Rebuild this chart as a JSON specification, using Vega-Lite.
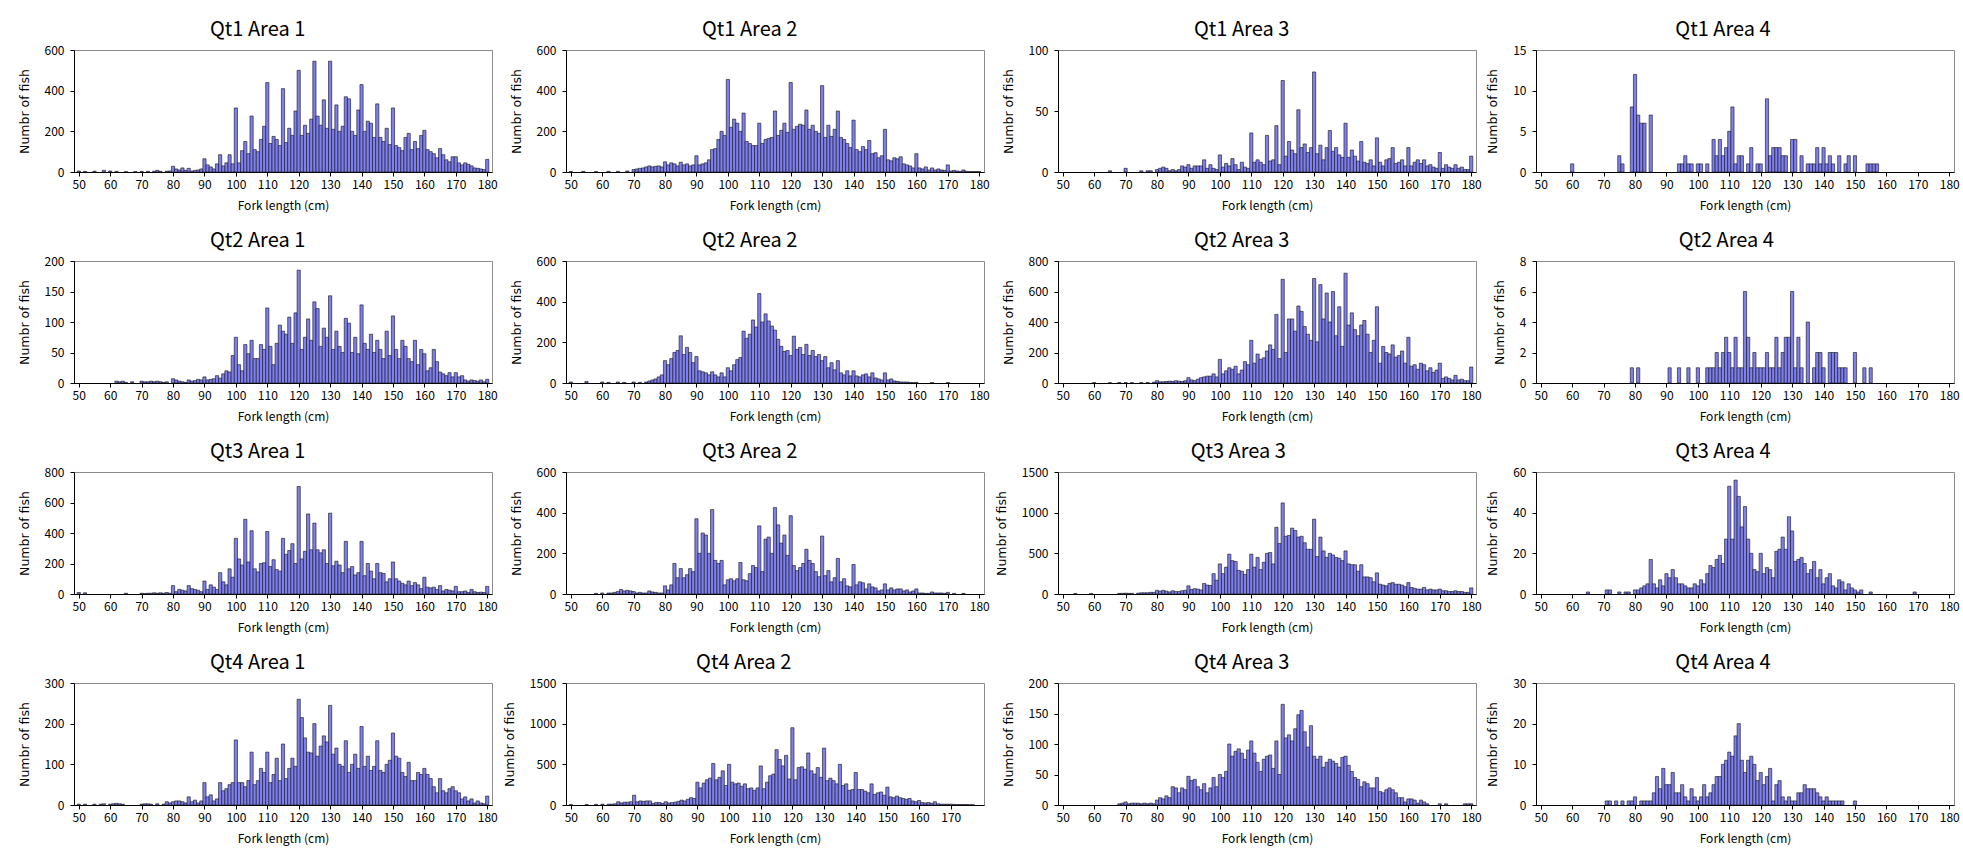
{
"$schema":"https://vega.github.io/schema/vega-lite/v6.json",
"background":"white",
"padding":{"left":17,"top":19,"right":4,"bottom":2},
"columns":4,
"spacing":{"row":18,"column":4},
"datasets":{
"q1a1":[{"x":50,"n":5},{"x":52,"n":3},{"x":55,"n":4},{"x":58,"n":8},{"x":60,"n":5},{"x":62,"n":3},{"x":65,"n":2},{"x":68,"n":2},{"x":70,"n":3},{"x":72,"n":3},{"x":74,"n":4},{"x":75,"n":8},{"x":76,"n":3},{"x":78,"n":4},{"x":79,"n":5},{"x":80,"n":28},{"x":81,"n":15},{"x":82,"n":10},{"x":83,"n":20},{"x":84,"n":8},{"x":85,"n":18},{"x":86,"n":5},{"x":87,"n":8},{"x":88,"n":10},{"x":89,"n":15},{"x":90,"n":65},{"x":91,"n":35},{"x":92,"n":25},{"x":93,"n":15},{"x":94,"n":40},{"x":95,"n":85},{"x":96,"n":30},{"x":97,"n":45},{"x":98,"n":85},{"x":99,"n":40},{"x":100,"n":315},{"x":101,"n":45},{"x":102,"n":105},{"x":103,"n":150},{"x":104,"n":90},{"x":105,"n":275},{"x":106,"n":110},{"x":107,"n":100},{"x":108,"n":160},{"x":109,"n":225},{"x":110,"n":440},{"x":111,"n":140},{"x":112,"n":175},{"x":113,"n":160},{"x":114,"n":130},{"x":115,"n":410},{"x":116,"n":145},{"x":117,"n":215},{"x":118,"n":180},{"x":119,"n":300},{"x":120,"n":500},{"x":121,"n":180},{"x":122,"n":230},{"x":123,"n":190},{"x":124,"n":260},{"x":125,"n":545},{"x":126,"n":275},{"x":127,"n":230},{"x":128,"n":355},{"x":129,"n":215},{"x":130,"n":545},{"x":131,"n":210},{"x":132,"n":330},{"x":133,"n":200},{"x":134,"n":225},{"x":135,"n":370},{"x":136,"n":360},{"x":137,"n":200},{"x":138,"n":180},{"x":139,"n":305},{"x":140,"n":430},{"x":141,"n":200},{"x":142,"n":250},{"x":143,"n":240},{"x":144,"n":170},{"x":145,"n":335},{"x":146,"n":170},{"x":147,"n":150},{"x":148,"n":215},{"x":149,"n":135},{"x":150,"n":315},{"x":151,"n":130},{"x":152,"n":120},{"x":153,"n":105},{"x":154,"n":170},{"x":155,"n":190},{"x":156,"n":110},{"x":157,"n":150},{"x":158,"n":115},{"x":159,"n":180},{"x":160,"n":205},{"x":161,"n":110},{"x":162,"n":100},{"x":163,"n":90},{"x":164,"n":70},{"x":165,"n":115},{"x":166,"n":85},{"x":167,"n":60},{"x":168,"n":50},{"x":169,"n":75},{"x":170,"n":75},{"x":171,"n":45},{"x":172,"n":35},{"x":173,"n":45},{"x":174,"n":38},{"x":175,"n":30},{"x":176,"n":20},{"x":177,"n":18},{"x":178,"n":15},{"x":179,"n":12},{"x":180,"n":62}],
"q1a2":[{"x":50,"n":2},{"x":54,"n":3},{"x":58,"n":2},{"x":62,"n":3},{"x":65,"n":3},{"x":68,"n":5},{"x":70,"n":12},{"x":71,"n":15},{"x":72,"n":18},{"x":73,"n":20},{"x":74,"n":25},{"x":75,"n":30},{"x":76,"n":25},{"x":77,"n":28},{"x":78,"n":30},{"x":79,"n":25},{"x":80,"n":50},{"x":81,"n":35},{"x":82,"n":45},{"x":83,"n":40},{"x":84,"n":30},{"x":85,"n":48},{"x":86,"n":35},{"x":87,"n":40},{"x":88,"n":30},{"x":89,"n":35},{"x":90,"n":80},{"x":91,"n":35},{"x":92,"n":40},{"x":93,"n":45},{"x":94,"n":60},{"x":95,"n":110},{"x":96,"n":115},{"x":97,"n":160},{"x":98,"n":200},{"x":99,"n":180},{"x":100,"n":455},{"x":101,"n":220},{"x":102,"n":260},{"x":103,"n":240},{"x":104,"n":200},{"x":105,"n":290},{"x":106,"n":150},{"x":107,"n":140},{"x":108,"n":130},{"x":109,"n":130},{"x":110,"n":240},{"x":111,"n":140},{"x":112,"n":160},{"x":113,"n":165},{"x":114,"n":170},{"x":115,"n":300},{"x":116,"n":180},{"x":117,"n":205},{"x":118,"n":240},{"x":119,"n":195},{"x":120,"n":440},{"x":121,"n":210},{"x":122,"n":225},{"x":123,"n":235},{"x":124,"n":230},{"x":125,"n":305},{"x":126,"n":210},{"x":127,"n":230},{"x":128,"n":200},{"x":129,"n":190},{"x":130,"n":425},{"x":131,"n":170},{"x":132,"n":230},{"x":133,"n":175},{"x":134,"n":210},{"x":135,"n":300},{"x":136,"n":170},{"x":137,"n":160},{"x":138,"n":140},{"x":139,"n":120},{"x":140,"n":255},{"x":141,"n":110},{"x":142,"n":100},{"x":143,"n":125},{"x":144,"n":110},{"x":145,"n":155},{"x":146,"n":90},{"x":147,"n":95},{"x":148,"n":70},{"x":149,"n":80},{"x":150,"n":210},{"x":151,"n":60},{"x":152,"n":55},{"x":153,"n":70},{"x":154,"n":65},{"x":155,"n":75},{"x":156,"n":40},{"x":157,"n":35},{"x":158,"n":30},{"x":159,"n":20},{"x":160,"n":90},{"x":161,"n":20},{"x":162,"n":15},{"x":163,"n":25},{"x":164,"n":10},{"x":165,"n":20},{"x":166,"n":10},{"x":167,"n":15},{"x":168,"n":10},{"x":169,"n":8},{"x":170,"n":35},{"x":171,"n":5},{"x":172,"n":8},{"x":173,"n":5},{"x":174,"n":3},{"x":175,"n":10},{"x":176,"n":3},{"x":177,"n":2},{"x":178,"n":2},{"x":179,"n":2},{"x":180,"n":2}],
"q1a3":[{"x":65,"n":1},{"x":70,"n":3},{"x":75,"n":1},{"x":77,"n":1},{"x":78,"n":1},{"x":80,"n":2},{"x":81,"n":3},{"x":82,"n":4},{"x":83,"n":3},{"x":84,"n":1},{"x":85,"n":2},{"x":86,"n":1},{"x":87,"n":2},{"x":88,"n":5},{"x":89,"n":4},{"x":90,"n":6},{"x":91,"n":3},{"x":92,"n":5},{"x":93,"n":5},{"x":94,"n":5},{"x":95,"n":10},{"x":96,"n":3},{"x":97,"n":6},{"x":98,"n":3},{"x":99,"n":2},{"x":100,"n":14},{"x":101,"n":4},{"x":102,"n":7},{"x":103,"n":5},{"x":104,"n":11},{"x":105,"n":6},{"x":106,"n":2},{"x":107,"n":8},{"x":108,"n":4},{"x":109,"n":3},{"x":110,"n":32},{"x":111,"n":8},{"x":112,"n":10},{"x":113,"n":8},{"x":114,"n":6},{"x":115,"n":30},{"x":116,"n":9},{"x":117,"n":10},{"x":118,"n":38},{"x":119,"n":6},{"x":120,"n":75},{"x":121,"n":13},{"x":122,"n":25},{"x":123,"n":18},{"x":124,"n":15},{"x":125,"n":51},{"x":126,"n":20},{"x":127,"n":23},{"x":128,"n":16},{"x":129,"n":20},{"x":130,"n":82},{"x":131,"n":15},{"x":132,"n":22},{"x":133,"n":10},{"x":134,"n":20},{"x":135,"n":34},{"x":136,"n":17},{"x":137,"n":20},{"x":138,"n":14},{"x":139,"n":12},{"x":140,"n":40},{"x":141,"n":12},{"x":142,"n":18},{"x":143,"n":13},{"x":144,"n":9},{"x":145,"n":25},{"x":146,"n":8},{"x":147,"n":7},{"x":148,"n":10},{"x":149,"n":5},{"x":150,"n":28},{"x":151,"n":8},{"x":152,"n":5},{"x":153,"n":10},{"x":154,"n":11},{"x":155,"n":20},{"x":156,"n":7},{"x":157,"n":8},{"x":158,"n":10},{"x":159,"n":5},{"x":160,"n":20},{"x":161,"n":5},{"x":162,"n":8},{"x":163,"n":10},{"x":164,"n":7},{"x":165,"n":10},{"x":166,"n":5},{"x":167,"n":6},{"x":168,"n":4},{"x":169,"n":3},{"x":170,"n":16},{"x":171,"n":3},{"x":172,"n":6},{"x":173,"n":4},{"x":174,"n":3},{"x":175,"n":6},{"x":176,"n":3},{"x":177,"n":4},{"x":178,"n":2},{"x":179,"n":2},{"x":180,"n":13}],
"q1a4":[{"x":60,"n":1},{"x":75,"n":2},{"x":76,"n":1},{"x":79,"n":8},{"x":80,"n":12},{"x":81,"n":7},{"x":82,"n":6},{"x":83,"n":6},{"x":85,"n":7},{"x":94,"n":1},{"x":95,"n":1},{"x":96,"n":2},{"x":97,"n":1},{"x":98,"n":1},{"x":100,"n":1},{"x":101,"n":1},{"x":103,"n":1},{"x":105,"n":4},{"x":106,"n":2},{"x":107,"n":4},{"x":108,"n":2},{"x":109,"n":3},{"x":110,"n":5},{"x":111,"n":8},{"x":112,"n":1},{"x":113,"n":2},{"x":114,"n":2},{"x":116,"n":1},{"x":117,"n":3},{"x":119,"n":1},{"x":120,"n":1},{"x":122,"n":9},{"x":123,"n":2},{"x":124,"n":3},{"x":125,"n":3},{"x":126,"n":3},{"x":127,"n":2},{"x":128,"n":2},{"x":130,"n":4},{"x":131,"n":4},{"x":133,"n":2},{"x":135,"n":1},{"x":136,"n":1},{"x":137,"n":1},{"x":138,"n":3},{"x":139,"n":1},{"x":140,"n":3},{"x":141,"n":1},{"x":142,"n":2},{"x":143,"n":1},{"x":145,"n":2},{"x":147,"n":1},{"x":148,"n":2},{"x":150,"n":2},{"x":154,"n":1},{"x":155,"n":1},{"x":156,"n":1},{"x":157,"n":1}],
"q2a1":[{"x":62,"n":3},{"x":63,"n":2},{"x":64,"n":3},{"x":65,"n":1},{"x":67,"n":2},{"x":70,"n":3},{"x":71,"n":2},{"x":72,"n":2},{"x":73,"n":3},{"x":74,"n":2},{"x":75,"n":3},{"x":76,"n":2},{"x":77,"n":1},{"x":78,"n":2},{"x":80,"n":7},{"x":81,"n":5},{"x":82,"n":3},{"x":83,"n":2},{"x":84,"n":1},{"x":85,"n":5},{"x":86,"n":3},{"x":87,"n":4},{"x":88,"n":6},{"x":89,"n":5},{"x":90,"n":10},{"x":91,"n":5},{"x":92,"n":6},{"x":93,"n":7},{"x":94,"n":12},{"x":95,"n":8},{"x":96,"n":15},{"x":97,"n":20},{"x":98,"n":18},{"x":99,"n":45},{"x":100,"n":75},{"x":101,"n":30},{"x":102,"n":20},{"x":103,"n":63},{"x":104,"n":48},{"x":105,"n":70},{"x":106,"n":40},{"x":107,"n":40},{"x":108,"n":63},{"x":109,"n":55},{"x":110,"n":123},{"x":111,"n":60},{"x":112,"n":30},{"x":113,"n":65},{"x":114,"n":95},{"x":115,"n":85},{"x":116,"n":80},{"x":117,"n":108},{"x":118,"n":65},{"x":119,"n":115},{"x":120,"n":185},{"x":121,"n":55},{"x":122,"n":75},{"x":123,"n":105},{"x":124,"n":70},{"x":125,"n":133},{"x":126,"n":122},{"x":127,"n":60},{"x":128,"n":90},{"x":129,"n":75},{"x":130,"n":143},{"x":131,"n":55},{"x":132,"n":85},{"x":133,"n":60},{"x":134,"n":50},{"x":135,"n":106},{"x":136,"n":98},{"x":137,"n":50},{"x":138,"n":75},{"x":139,"n":48},{"x":140,"n":128},{"x":141,"n":65},{"x":142,"n":55},{"x":143,"n":80},{"x":144,"n":50},{"x":145,"n":70},{"x":146,"n":55},{"x":147,"n":40},{"x":148,"n":85},{"x":149,"n":45},{"x":150,"n":110},{"x":151,"n":55},{"x":152,"n":40},{"x":153,"n":70},{"x":154,"n":60},{"x":155,"n":40},{"x":156,"n":35},{"x":157,"n":70},{"x":158,"n":30},{"x":159,"n":55},{"x":160,"n":48},{"x":161,"n":20},{"x":162,"n":25},{"x":163,"n":55},{"x":164,"n":35},{"x":165,"n":18},{"x":166,"n":15},{"x":167,"n":12},{"x":168,"n":17},{"x":169,"n":10},{"x":170,"n":17},{"x":171,"n":10},{"x":172,"n":12},{"x":173,"n":5},{"x":174,"n":3},{"x":175,"n":5},{"x":176,"n":4},{"x":177,"n":3},{"x":178,"n":5},{"x":179,"n":2},{"x":180,"n":6}],
"q2a2":[{"x":50,"n":5},{"x":55,"n":7},{"x":60,"n":5},{"x":62,"n":3},{"x":65,"n":5},{"x":67,"n":3},{"x":70,"n":5},{"x":72,"n":3},{"x":74,"n":5},{"x":75,"n":10},{"x":76,"n":15},{"x":77,"n":20},{"x":78,"n":30},{"x":79,"n":40},{"x":80,"n":110},{"x":81,"n":90},{"x":82,"n":120},{"x":83,"n":150},{"x":84,"n":160},{"x":85,"n":232},{"x":86,"n":140},{"x":87,"n":175},{"x":88,"n":150},{"x":89,"n":100},{"x":90,"n":130},{"x":91,"n":60},{"x":92,"n":55},{"x":93,"n":50},{"x":94,"n":40},{"x":95,"n":55},{"x":96,"n":40},{"x":97,"n":30},{"x":98,"n":50},{"x":99,"n":30},{"x":100,"n":75},{"x":101,"n":60},{"x":102,"n":90},{"x":103,"n":115},{"x":104,"n":125},{"x":105,"n":255},{"x":106,"n":220},{"x":107,"n":240},{"x":108,"n":310},{"x":109,"n":275},{"x":110,"n":440},{"x":111,"n":300},{"x":112,"n":340},{"x":113,"n":305},{"x":114,"n":280},{"x":115,"n":260},{"x":116,"n":215},{"x":117,"n":180},{"x":118,"n":155},{"x":119,"n":160},{"x":120,"n":135},{"x":121,"n":230},{"x":122,"n":165},{"x":123,"n":175},{"x":124,"n":140},{"x":125,"n":190},{"x":126,"n":135},{"x":127,"n":160},{"x":128,"n":130},{"x":129,"n":140},{"x":130,"n":110},{"x":131,"n":130},{"x":132,"n":75},{"x":133,"n":100},{"x":134,"n":65},{"x":135,"n":110},{"x":136,"n":50},{"x":137,"n":40},{"x":138,"n":60},{"x":139,"n":35},{"x":140,"n":60},{"x":141,"n":35},{"x":142,"n":30},{"x":143,"n":40},{"x":144,"n":45},{"x":145,"n":30},{"x":146,"n":50},{"x":147,"n":25},{"x":148,"n":20},{"x":149,"n":15},{"x":150,"n":50},{"x":151,"n":15},{"x":152,"n":20},{"x":153,"n":10},{"x":154,"n":8},{"x":155,"n":5},{"x":156,"n":5},{"x":157,"n":5},{"x":158,"n":3},{"x":159,"n":2},{"x":160,"n":3},{"x":165,"n":2},{"x":170,"n":2}],
"q2a3":[{"x":60,"n":3},{"x":65,"n":2},{"x":68,"n":3},{"x":70,"n":3},{"x":72,"n":2},{"x":75,"n":3},{"x":77,"n":3},{"x":79,"n":5},{"x":80,"n":15},{"x":81,"n":8},{"x":82,"n":8},{"x":83,"n":10},{"x":84,"n":12},{"x":85,"n":10},{"x":86,"n":15},{"x":87,"n":12},{"x":88,"n":10},{"x":89,"n":15},{"x":90,"n":35},{"x":91,"n":20},{"x":92,"n":15},{"x":93,"n":25},{"x":94,"n":35},{"x":95,"n":40},{"x":96,"n":45},{"x":97,"n":45},{"x":98,"n":60},{"x":99,"n":40},{"x":100,"n":155},{"x":101,"n":60},{"x":102,"n":80},{"x":103,"n":100},{"x":104,"n":90},{"x":105,"n":110},{"x":106,"n":60},{"x":107,"n":85},{"x":108,"n":140},{"x":109,"n":120},{"x":110,"n":280},{"x":111,"n":130},{"x":112,"n":190},{"x":113,"n":155},{"x":114,"n":165},{"x":115,"n":210},{"x":116,"n":250},{"x":117,"n":220},{"x":118,"n":450},{"x":119,"n":160},{"x":120,"n":680},{"x":121,"n":200},{"x":122,"n":420},{"x":123,"n":420},{"x":124,"n":340},{"x":125,"n":505},{"x":126,"n":470},{"x":127,"n":370},{"x":128,"n":320},{"x":129,"n":280},{"x":130,"n":685},{"x":131,"n":270},{"x":132,"n":645},{"x":133,"n":420},{"x":134,"n":590},{"x":135,"n":400},{"x":136,"n":600},{"x":137,"n":310},{"x":138,"n":500},{"x":139,"n":240},{"x":140,"n":720},{"x":141,"n":380},{"x":142,"n":460},{"x":143,"n":350},{"x":144,"n":310},{"x":145,"n":380},{"x":146,"n":410},{"x":147,"n":320},{"x":148,"n":200},{"x":149,"n":280},{"x":150,"n":500},{"x":151,"n":130},{"x":152,"n":240},{"x":153,"n":200},{"x":154,"n":190},{"x":155,"n":250},{"x":156,"n":170},{"x":157,"n":180},{"x":158,"n":210},{"x":159,"n":130},{"x":160,"n":300},{"x":161,"n":110},{"x":162,"n":120},{"x":163,"n":90},{"x":164,"n":130},{"x":165,"n":120},{"x":166,"n":80},{"x":167,"n":100},{"x":168,"n":70},{"x":169,"n":85},{"x":170,"n":130},{"x":171,"n":30},{"x":172,"n":40},{"x":173,"n":30},{"x":174,"n":20},{"x":175,"n":50},{"x":176,"n":20},{"x":177,"n":25},{"x":178,"n":15},{"x":179,"n":15},{"x":180,"n":105}],
"q2a4":[{"x":79,"n":1},{"x":81,"n":1},{"x":91,"n":1},{"x":94,"n":1},{"x":97,"n":1},{"x":100,"n":1},{"x":103,"n":1},{"x":104,"n":1},{"x":105,"n":1},{"x":106,"n":2},{"x":107,"n":1},{"x":108,"n":2},{"x":109,"n":3},{"x":110,"n":2},{"x":111,"n":1},{"x":112,"n":3},{"x":113,"n":1},{"x":114,"n":1},{"x":115,"n":6},{"x":116,"n":3},{"x":117,"n":1},{"x":118,"n":2},{"x":119,"n":1},{"x":120,"n":1},{"x":121,"n":1},{"x":122,"n":2},{"x":123,"n":1},{"x":124,"n":1},{"x":125,"n":3},{"x":126,"n":1},{"x":127,"n":2},{"x":128,"n":3},{"x":129,"n":3},{"x":130,"n":6},{"x":131,"n":1},{"x":132,"n":3},{"x":133,"n":1},{"x":135,"n":4},{"x":137,"n":1},{"x":138,"n":2},{"x":139,"n":2},{"x":140,"n":1},{"x":142,"n":2},{"x":143,"n":2},{"x":144,"n":2},{"x":145,"n":1},{"x":146,"n":1},{"x":147,"n":1},{"x":150,"n":2},{"x":153,"n":1},{"x":155,"n":1}],
"q3a1":[{"x":50,"n":10},{"x":52,"n":8},{"x":65,"n":5},{"x":70,"n":5},{"x":71,"n":3},{"x":72,"n":5},{"x":73,"n":5},{"x":74,"n":8},{"x":75,"n":5},{"x":76,"n":8},{"x":77,"n":5},{"x":78,"n":10},{"x":79,"n":5},{"x":80,"n":55},{"x":81,"n":15},{"x":82,"n":30},{"x":83,"n":25},{"x":84,"n":20},{"x":85,"n":55},{"x":86,"n":35},{"x":87,"n":30},{"x":88,"n":25},{"x":89,"n":15},{"x":90,"n":85},{"x":91,"n":30},{"x":92,"n":60},{"x":93,"n":45},{"x":94,"n":30},{"x":95,"n":140},{"x":96,"n":80},{"x":97,"n":60},{"x":98,"n":165},{"x":99,"n":110},{"x":100,"n":365},{"x":101,"n":230},{"x":102,"n":190},{"x":103,"n":490},{"x":104,"n":210},{"x":105,"n":415},{"x":106,"n":165},{"x":107,"n":145},{"x":108,"n":200},{"x":109,"n":205},{"x":110,"n":410},{"x":111,"n":180},{"x":112,"n":225},{"x":113,"n":160},{"x":114,"n":150},{"x":115,"n":365},{"x":116,"n":260},{"x":117,"n":285},{"x":118,"n":330},{"x":119,"n":200},{"x":120,"n":705},{"x":121,"n":230},{"x":122,"n":280},{"x":123,"n":525},{"x":124,"n":290},{"x":125,"n":465},{"x":126,"n":290},{"x":127,"n":270},{"x":128,"n":290},{"x":129,"n":200},{"x":130,"n":530},{"x":131,"n":185},{"x":132,"n":215},{"x":133,"n":190},{"x":134,"n":140},{"x":135,"n":345},{"x":136,"n":165},{"x":137,"n":180},{"x":138,"n":125},{"x":139,"n":140},{"x":140,"n":345},{"x":141,"n":120},{"x":142,"n":200},{"x":143,"n":150},{"x":144,"n":100},{"x":145,"n":200},{"x":146,"n":140},{"x":147,"n":135},{"x":148,"n":80},{"x":149,"n":100},{"x":150,"n":210},{"x":151,"n":100},{"x":152,"n":85},{"x":153,"n":70},{"x":154,"n":60},{"x":155,"n":85},{"x":156,"n":55},{"x":157,"n":75},{"x":158,"n":60},{"x":159,"n":35},{"x":160,"n":110},{"x":161,"n":45},{"x":162,"n":40},{"x":163,"n":45},{"x":164,"n":30},{"x":165,"n":55},{"x":166,"n":20},{"x":167,"n":30},{"x":168,"n":25},{"x":169,"n":20},{"x":170,"n":50},{"x":171,"n":15},{"x":172,"n":15},{"x":173,"n":20},{"x":174,"n":10},{"x":175,"n":30},{"x":176,"n":15},{"x":177,"n":10},{"x":178,"n":12},{"x":179,"n":10},{"x":180,"n":50}],
"q3a2":[{"x":58,"n":3},{"x":60,"n":5},{"x":62,"n":5},{"x":63,"n":5},{"x":64,"n":8},{"x":65,"n":12},{"x":66,"n":22},{"x":67,"n":15},{"x":68,"n":18},{"x":69,"n":15},{"x":70,"n":12},{"x":71,"n":5},{"x":72,"n":8},{"x":73,"n":5},{"x":74,"n":5},{"x":75,"n":15},{"x":76,"n":10},{"x":77,"n":8},{"x":78,"n":5},{"x":79,"n":5},{"x":80,"n":40},{"x":81,"n":20},{"x":82,"n":45},{"x":83,"n":150},{"x":84,"n":80},{"x":85,"n":125},{"x":86,"n":80},{"x":87,"n":95},{"x":88,"n":125},{"x":89,"n":110},{"x":90,"n":370},{"x":91,"n":200},{"x":92,"n":300},{"x":93,"n":290},{"x":94,"n":200},{"x":95,"n":415},{"x":96,"n":165},{"x":97,"n":150},{"x":98,"n":165},{"x":99,"n":45},{"x":100,"n":70},{"x":101,"n":75},{"x":102,"n":65},{"x":103,"n":75},{"x":104,"n":155},{"x":105,"n":70},{"x":106,"n":65},{"x":107,"n":100},{"x":108,"n":140},{"x":109,"n":130},{"x":110,"n":335},{"x":111,"n":110},{"x":112,"n":270},{"x":113,"n":280},{"x":114,"n":200},{"x":115,"n":425},{"x":116,"n":340},{"x":117,"n":250},{"x":118,"n":290},{"x":119,"n":190},{"x":120,"n":385},{"x":121,"n":140},{"x":122,"n":115},{"x":123,"n":130},{"x":124,"n":150},{"x":125,"n":220},{"x":126,"n":165},{"x":127,"n":150},{"x":128,"n":110},{"x":129,"n":85},{"x":130,"n":285},{"x":131,"n":90},{"x":132,"n":115},{"x":133,"n":60},{"x":134,"n":80},{"x":135,"n":175},{"x":136,"n":60},{"x":137,"n":75},{"x":138,"n":40},{"x":139,"n":35},{"x":140,"n":145},{"x":141,"n":45},{"x":142,"n":60},{"x":143,"n":55},{"x":144,"n":25},{"x":145,"n":50},{"x":146,"n":35},{"x":147,"n":30},{"x":148,"n":15},{"x":149,"n":20},{"x":150,"n":50},{"x":151,"n":20},{"x":152,"n":30},{"x":153,"n":20},{"x":154,"n":25},{"x":155,"n":25},{"x":156,"n":15},{"x":157,"n":20},{"x":158,"n":10},{"x":159,"n":15},{"x":160,"n":25},{"x":161,"n":5},{"x":162,"n":5},{"x":163,"n":3},{"x":164,"n":3},{"x":165,"n":10},{"x":166,"n":5},{"x":167,"n":5},{"x":168,"n":5},{"x":169,"n":3},{"x":170,"n":8},{"x":172,"n":3},{"x":175,"n":3}],
"q3a3":[{"x":54,"n":5},{"x":59,"n":5},{"x":68,"n":8},{"x":69,"n":8},{"x":70,"n":10},{"x":71,"n":8},{"x":72,"n":8},{"x":74,"n":10},{"x":75,"n":15},{"x":76,"n":15},{"x":77,"n":15},{"x":78,"n":20},{"x":79,"n":20},{"x":80,"n":45},{"x":81,"n":35},{"x":82,"n":45},{"x":83,"n":35},{"x":84,"n":25},{"x":85,"n":40},{"x":86,"n":30},{"x":87,"n":30},{"x":88,"n":40},{"x":89,"n":45},{"x":90,"n":100},{"x":91,"n":55},{"x":92,"n":65},{"x":93,"n":60},{"x":94,"n":50},{"x":95,"n":130},{"x":96,"n":110},{"x":97,"n":105},{"x":98,"n":250},{"x":99,"n":170},{"x":100,"n":370},{"x":101,"n":250},{"x":102,"n":330},{"x":103,"n":490},{"x":104,"n":410},{"x":105,"n":400},{"x":106,"n":290},{"x":107,"n":280},{"x":108,"n":240},{"x":109,"n":300},{"x":110,"n":490},{"x":111,"n":330},{"x":112,"n":450},{"x":113,"n":300},{"x":114,"n":390},{"x":115,"n":500},{"x":116,"n":510},{"x":117,"n":370},{"x":118,"n":820},{"x":119,"n":620},{"x":120,"n":1120},{"x":121,"n":710},{"x":122,"n":720},{"x":123,"n":810},{"x":124,"n":780},{"x":125,"n":700},{"x":126,"n":710},{"x":127,"n":630},{"x":128,"n":550},{"x":129,"n":550},{"x":130,"n":920},{"x":131,"n":460},{"x":132,"n":700},{"x":133,"n":530},{"x":134,"n":450},{"x":135,"n":500},{"x":136,"n":480},{"x":137,"n":450},{"x":138,"n":440},{"x":139,"n":410},{"x":140,"n":530},{"x":141,"n":370},{"x":142,"n":360},{"x":143,"n":360},{"x":144,"n":280},{"x":145,"n":360},{"x":146,"n":210},{"x":147,"n":210},{"x":148,"n":200},{"x":149,"n":150},{"x":150,"n":260},{"x":151,"n":120},{"x":152,"n":110},{"x":153,"n":100},{"x":154,"n":130},{"x":155,"n":140},{"x":156,"n":120},{"x":157,"n":120},{"x":158,"n":110},{"x":159,"n":90},{"x":160,"n":140},{"x":161,"n":80},{"x":162,"n":70},{"x":163,"n":60},{"x":164,"n":60},{"x":165,"n":80},{"x":166,"n":50},{"x":167,"n":60},{"x":168,"n":50},{"x":169,"n":50},{"x":170,"n":60},{"x":171,"n":40},{"x":172,"n":40},{"x":173,"n":30},{"x":174,"n":30},{"x":175,"n":40},{"x":176,"n":30},{"x":177,"n":30},{"x":178,"n":20},{"x":179,"n":20},{"x":180,"n":75}],
"q3a4":[{"x":65,"n":1},{"x":71,"n":2},{"x":72,"n":2},{"x":75,"n":1},{"x":77,"n":1},{"x":78,"n":1},{"x":80,"n":2},{"x":81,"n":2},{"x":82,"n":3},{"x":83,"n":4},{"x":84,"n":5},{"x":85,"n":17},{"x":86,"n":5},{"x":87,"n":3},{"x":88,"n":7},{"x":89,"n":4},{"x":90,"n":10},{"x":91,"n":8},{"x":92,"n":12},{"x":93,"n":8},{"x":94,"n":5},{"x":95,"n":5},{"x":96,"n":4},{"x":97,"n":3},{"x":98,"n":3},{"x":99,"n":5},{"x":100,"n":4},{"x":101,"n":7},{"x":102,"n":5},{"x":103,"n":10},{"x":104,"n":14},{"x":105,"n":13},{"x":106,"n":17},{"x":107,"n":19},{"x":108,"n":15},{"x":109,"n":27},{"x":110,"n":53},{"x":111,"n":27},{"x":112,"n":56},{"x":113,"n":48},{"x":114,"n":33},{"x":115,"n":43},{"x":116,"n":27},{"x":117,"n":20},{"x":118,"n":12},{"x":119,"n":11},{"x":120,"n":20},{"x":121,"n":10},{"x":122,"n":13},{"x":123,"n":12},{"x":124,"n":8},{"x":125,"n":21},{"x":126,"n":22},{"x":127,"n":28},{"x":128,"n":22},{"x":129,"n":38},{"x":130,"n":31},{"x":131,"n":16},{"x":132,"n":17},{"x":133,"n":18},{"x":134,"n":15},{"x":135,"n":10},{"x":136,"n":12},{"x":137,"n":16},{"x":138,"n":8},{"x":139,"n":12},{"x":140,"n":5},{"x":141,"n":8},{"x":142,"n":10},{"x":143,"n":4},{"x":144,"n":3},{"x":145,"n":7},{"x":146,"n":6},{"x":147,"n":2},{"x":148,"n":5},{"x":149,"n":3},{"x":150,"n":2},{"x":151,"n":1},{"x":152,"n":2},{"x":155,"n":1},{"x":169,"n":1}],
"q4a1":[{"x":50,"n":2},{"x":52,"n":2},{"x":55,"n":2},{"x":57,"n":2},{"x":58,"n":3},{"x":60,"n":2},{"x":61,"n":3},{"x":62,"n":4},{"x":63,"n":3},{"x":64,"n":2},{"x":70,"n":2},{"x":71,"n":3},{"x":72,"n":3},{"x":73,"n":2},{"x":75,"n":3},{"x":77,"n":2},{"x":78,"n":8},{"x":79,"n":5},{"x":80,"n":8},{"x":81,"n":10},{"x":82,"n":10},{"x":83,"n":8},{"x":84,"n":5},{"x":85,"n":20},{"x":86,"n":8},{"x":87,"n":12},{"x":88,"n":5},{"x":89,"n":10},{"x":90,"n":55},{"x":91,"n":20},{"x":92,"n":25},{"x":93,"n":10},{"x":94,"n":15},{"x":95,"n":55},{"x":96,"n":35},{"x":97,"n":40},{"x":98,"n":50},{"x":99,"n":55},{"x":100,"n":160},{"x":101,"n":55},{"x":102,"n":55},{"x":103,"n":45},{"x":104,"n":60},{"x":105,"n":130},{"x":106,"n":50},{"x":107,"n":60},{"x":108,"n":90},{"x":109,"n":80},{"x":110,"n":130},{"x":111,"n":55},{"x":112,"n":75},{"x":113,"n":115},{"x":114,"n":60},{"x":115,"n":150},{"x":116,"n":65},{"x":117,"n":90},{"x":118,"n":115},{"x":119,"n":95},{"x":120,"n":260},{"x":121,"n":215},{"x":122,"n":165},{"x":123,"n":130},{"x":124,"n":128},{"x":125,"n":200},{"x":126,"n":120},{"x":127,"n":145},{"x":128,"n":170},{"x":129,"n":155},{"x":130,"n":245},{"x":131,"n":125},{"x":132,"n":140},{"x":133,"n":100},{"x":134,"n":95},{"x":135,"n":158},{"x":136,"n":80},{"x":137,"n":100},{"x":138,"n":125},{"x":139,"n":90},{"x":140,"n":193},{"x":141,"n":95},{"x":142,"n":120},{"x":143,"n":85},{"x":144,"n":95},{"x":145,"n":158},{"x":146,"n":85},{"x":147,"n":80},{"x":148,"n":100},{"x":149,"n":110},{"x":150,"n":177},{"x":151,"n":120},{"x":152,"n":115},{"x":153,"n":80},{"x":154,"n":70},{"x":155,"n":105},{"x":156,"n":60},{"x":157,"n":60},{"x":158,"n":80},{"x":159,"n":75},{"x":160,"n":90},{"x":161,"n":75},{"x":162,"n":65},{"x":163,"n":45},{"x":164,"n":30},{"x":165,"n":65},{"x":166,"n":35},{"x":167,"n":30},{"x":168,"n":40},{"x":169,"n":45},{"x":170,"n":35},{"x":171,"n":30},{"x":172,"n":15},{"x":173,"n":20},{"x":174,"n":10},{"x":175,"n":15},{"x":176,"n":5},{"x":177,"n":10},{"x":178,"n":5},{"x":179,"n":3},{"x":180,"n":22}],
"q4a2":[{"x":50,"n":5},{"x":55,"n":5},{"x":58,"n":8},{"x":60,"n":10},{"x":62,"n":10},{"x":63,"n":10},{"x":64,"n":15},{"x":65,"n":40},{"x":66,"n":25},{"x":67,"n":35},{"x":68,"n":35},{"x":69,"n":40},{"x":70,"n":120},{"x":71,"n":40},{"x":72,"n":50},{"x":73,"n":45},{"x":74,"n":50},{"x":75,"n":50},{"x":76,"n":20},{"x":77,"n":30},{"x":78,"n":30},{"x":79,"n":20},{"x":80,"n":40},{"x":81,"n":25},{"x":82,"n":30},{"x":83,"n":35},{"x":84,"n":45},{"x":85,"n":60},{"x":86,"n":50},{"x":87,"n":70},{"x":88,"n":90},{"x":89,"n":80},{"x":90,"n":280},{"x":91,"n":210},{"x":92,"n":270},{"x":93,"n":310},{"x":94,"n":330},{"x":95,"n":510},{"x":96,"n":310},{"x":97,"n":340},{"x":98,"n":420},{"x":99,"n":240},{"x":100,"n":500},{"x":101,"n":280},{"x":102,"n":260},{"x":103,"n":270},{"x":104,"n":230},{"x":105,"n":260},{"x":106,"n":200},{"x":107,"n":210},{"x":108,"n":180},{"x":109,"n":210},{"x":110,"n":480},{"x":111,"n":200},{"x":112,"n":280},{"x":113,"n":360},{"x":114,"n":380},{"x":115,"n":680},{"x":116,"n":560},{"x":117,"n":480},{"x":118,"n":610},{"x":119,"n":320},{"x":120,"n":950},{"x":121,"n":310},{"x":122,"n":460},{"x":123,"n":470},{"x":124,"n":440},{"x":125,"n":640},{"x":126,"n":420},{"x":127,"n":380},{"x":128,"n":460},{"x":129,"n":340},{"x":130,"n":700},{"x":131,"n":300},{"x":132,"n":330},{"x":133,"n":300},{"x":134,"n":260},{"x":135,"n":500},{"x":136,"n":240},{"x":137,"n":260},{"x":138,"n":180},{"x":139,"n":190},{"x":140,"n":400},{"x":141,"n":190},{"x":142,"n":190},{"x":143,"n":170},{"x":144,"n":150},{"x":145,"n":260},{"x":146,"n":130},{"x":147,"n":150},{"x":148,"n":160},{"x":149,"n":120},{"x":150,"n":220},{"x":151,"n":100},{"x":152,"n":90},{"x":153,"n":110},{"x":154,"n":90},{"x":155,"n":80},{"x":156,"n":70},{"x":157,"n":80},{"x":158,"n":50},{"x":159,"n":40},{"x":160,"n":55},{"x":161,"n":30},{"x":162,"n":25},{"x":163,"n":30},{"x":164,"n":20},{"x":165,"n":40},{"x":166,"n":15},{"x":167,"n":10},{"x":168,"n":10},{"x":169,"n":10},{"x":170,"n":10},{"x":171,"n":8},{"x":172,"n":5},{"x":173,"n":5},{"x":174,"n":5},{"x":175,"n":5},{"x":176,"n":3},{"x":177,"n":3}],
"q4a3":[{"x":68,"n":2},{"x":69,"n":3},{"x":70,"n":5},{"x":71,"n":2},{"x":72,"n":3},{"x":73,"n":3},{"x":74,"n":3},{"x":75,"n":2},{"x":76,"n":3},{"x":77,"n":2},{"x":78,"n":3},{"x":79,"n":2},{"x":80,"n":8},{"x":81,"n":12},{"x":82,"n":10},{"x":83,"n":15},{"x":84,"n":12},{"x":85,"n":30},{"x":86,"n":28},{"x":87,"n":20},{"x":88,"n":28},{"x":89,"n":25},{"x":90,"n":47},{"x":91,"n":40},{"x":92,"n":42},{"x":93,"n":30},{"x":94,"n":25},{"x":95,"n":35},{"x":96,"n":20},{"x":97,"n":28},{"x":98,"n":45},{"x":99,"n":30},{"x":100,"n":50},{"x":101,"n":45},{"x":102,"n":55},{"x":103,"n":100},{"x":104,"n":80},{"x":105,"n":88},{"x":106,"n":92},{"x":107,"n":85},{"x":108,"n":75},{"x":109,"n":90},{"x":110,"n":105},{"x":111,"n":85},{"x":112,"n":70},{"x":113,"n":55},{"x":114,"n":75},{"x":115,"n":80},{"x":116,"n":82},{"x":117,"n":60},{"x":118,"n":105},{"x":119,"n":50},{"x":120,"n":165},{"x":121,"n":110},{"x":122,"n":115},{"x":123,"n":105},{"x":124,"n":125},{"x":125,"n":148},{"x":126,"n":155},{"x":127,"n":120},{"x":128,"n":95},{"x":129,"n":130},{"x":130,"n":80},{"x":131,"n":75},{"x":132,"n":80},{"x":133,"n":62},{"x":134,"n":70},{"x":135,"n":75},{"x":136,"n":72},{"x":137,"n":68},{"x":138,"n":62},{"x":139,"n":78},{"x":140,"n":80},{"x":141,"n":65},{"x":142,"n":55},{"x":143,"n":45},{"x":144,"n":42},{"x":145,"n":30},{"x":146,"n":38},{"x":147,"n":35},{"x":148,"n":28},{"x":149,"n":28},{"x":150,"n":45},{"x":151,"n":22},{"x":152,"n":20},{"x":153,"n":25},{"x":154,"n":28},{"x":155,"n":25},{"x":156,"n":20},{"x":157,"n":12},{"x":158,"n":12},{"x":159,"n":5},{"x":160,"n":10},{"x":161,"n":10},{"x":162,"n":8},{"x":163,"n":3},{"x":164,"n":8},{"x":165,"n":5},{"x":166,"n":2},{"x":170,"n":2},{"x":172,"n":2},{"x":178,"n":2},{"x":179,"n":2},{"x":180,"n":2}],
"q4a4":[{"x":71,"n":1},{"x":72,"n":1},{"x":74,"n":1},{"x":76,"n":1},{"x":78,"n":1},{"x":79,"n":1},{"x":80,"n":2},{"x":82,"n":1},{"x":83,"n":1},{"x":84,"n":1},{"x":85,"n":1},{"x":86,"n":3},{"x":87,"n":7},{"x":88,"n":4},{"x":89,"n":9},{"x":90,"n":5},{"x":91,"n":5},{"x":92,"n":8},{"x":93,"n":3},{"x":94,"n":3},{"x":95,"n":5},{"x":96,"n":2},{"x":97,"n":1},{"x":98,"n":4},{"x":99,"n":2},{"x":100,"n":1},{"x":101,"n":2},{"x":102,"n":5},{"x":103,"n":2},{"x":104,"n":3},{"x":105,"n":5},{"x":106,"n":7},{"x":107,"n":7},{"x":108,"n":10},{"x":109,"n":11},{"x":110,"n":13},{"x":111,"n":12},{"x":112,"n":17},{"x":113,"n":20},{"x":114,"n":11},{"x":115,"n":8},{"x":116,"n":11},{"x":117,"n":12},{"x":118,"n":10},{"x":119,"n":6},{"x":120,"n":8},{"x":121,"n":5},{"x":122,"n":7},{"x":123,"n":9},{"x":124,"n":1},{"x":125,"n":5},{"x":126,"n":6},{"x":127,"n":2},{"x":128,"n":1},{"x":129,"n":2},{"x":130,"n":1},{"x":131,"n":1},{"x":132,"n":3},{"x":133,"n":3},{"x":134,"n":5},{"x":135,"n":4},{"x":136,"n":4},{"x":137,"n":4},{"x":138,"n":3},{"x":139,"n":2},{"x":140,"n":1},{"x":141,"n":2},{"x":142,"n":1},{"x":143,"n":1},{"x":144,"n":1},{"x":145,"n":1},{"x":146,"n":1},{"x":150,"n":1}]
},
"concat":[
{"data":{"name":"q1a1"},"title":"Qt1 Area 1","mark":"bar","encoding":{"x":{"field":"x","type":"quantitative","title":"Fork length (cm)","scale":{"domain":[49.5,180.5],"nice":false}},"y":{"field":"n","type":"quantitative","title":"Numbr of fish","scale":{"domain":[0,600]}}}},
{"data":{"name":"q1a2"},"title":"Qt1 Area 2","mark":"bar","encoding":{"x":{"field":"x","type":"quantitative","title":"Fork length (cm)","scale":{"domain":[49.5,180.5],"nice":false}},"y":{"field":"n","type":"quantitative","title":"Numbr of fish","scale":{"domain":[0,600]}}}},
{"data":{"name":"q1a3"},"title":"Qt1 Area 3","mark":"bar","encoding":{"x":{"field":"x","type":"quantitative","title":"Fork length (cm)","scale":{"domain":[49.5,180.5],"nice":false}},"y":{"field":"n","type":"quantitative","title":"Numbr of fish","scale":{"domain":[0,100]}}}},
{"data":{"name":"q1a4"},"title":"Qt1 Area 4","mark":"bar","encoding":{"x":{"field":"x","type":"quantitative","title":"Fork length (cm)","scale":{"domain":[49.5,180.5],"nice":false}},"y":{"field":"n","type":"quantitative","title":"Numbr of fish","scale":{"domain":[0,15]}}}},
{"data":{"name":"q2a1"},"title":"Qt2 Area 1","mark":"bar","encoding":{"x":{"field":"x","type":"quantitative","title":"Fork length (cm)","scale":{"domain":[49.5,180.5],"nice":false}},"y":{"field":"n","type":"quantitative","title":"Numbr of fish","scale":{"domain":[0,200]}}}},
{"data":{"name":"q2a2"},"title":"Qt2 Area 2","mark":"bar","encoding":{"x":{"field":"x","type":"quantitative","title":"Fork length (cm)","scale":{"domain":[49.5,180.5],"nice":false}},"y":{"field":"n","type":"quantitative","title":"Numbr of fish","scale":{"domain":[0,600]}}}},
{"data":{"name":"q2a3"},"title":"Qt2 Area 3","mark":"bar","encoding":{"x":{"field":"x","type":"quantitative","title":"Fork length (cm)","scale":{"domain":[49.5,180.5],"nice":false}},"y":{"field":"n","type":"quantitative","title":"Numbr of fish","scale":{"domain":[0,800]}}}},
{"data":{"name":"q2a4"},"title":"Qt2 Area 4","mark":"bar","encoding":{"x":{"field":"x","type":"quantitative","title":"Fork length (cm)","scale":{"domain":[49.5,180.5],"nice":false}},"y":{"field":"n","type":"quantitative","title":"Numbr of fish","scale":{"domain":[0,8]}}}},
{"data":{"name":"q3a1"},"title":"Qt3 Area 1","mark":"bar","encoding":{"x":{"field":"x","type":"quantitative","title":"Fork length (cm)","scale":{"domain":[49.5,180.5],"nice":false}},"y":{"field":"n","type":"quantitative","title":"Numbr of fish","scale":{"domain":[0,800]}}}},
{"data":{"name":"q3a2"},"title":"Qt3 Area 2","mark":"bar","encoding":{"x":{"field":"x","type":"quantitative","title":"Fork length (cm)","scale":{"domain":[49.5,180.5],"nice":false}},"y":{"field":"n","type":"quantitative","title":"Numbr of fish","scale":{"domain":[0,600]}}}},
{"data":{"name":"q3a3"},"title":"Qt3 Area 3","mark":"bar","encoding":{"x":{"field":"x","type":"quantitative","title":"Fork length (cm)","scale":{"domain":[49.5,180.5],"nice":false}},"y":{"field":"n","type":"quantitative","title":"Numbr of fish","scale":{"domain":[0,1500]},"axis":{"format":"d"}}}},
{"data":{"name":"q3a4"},"title":"Qt3 Area 4","mark":"bar","encoding":{"x":{"field":"x","type":"quantitative","title":"Fork length (cm)","scale":{"domain":[49.5,180.5],"nice":false}},"y":{"field":"n","type":"quantitative","title":"Numbr of fish","scale":{"domain":[0,60]}}}},
{"data":{"name":"q4a1"},"title":"Qt4 Area 1","mark":"bar","encoding":{"x":{"field":"x","type":"quantitative","title":"Fork length (cm)","scale":{"domain":[49.5,180.5],"nice":false}},"y":{"field":"n","type":"quantitative","title":"Numbr of fish","scale":{"domain":[0,300]}}}},
{"data":{"name":"q4a2"},"title":"Qt4 Area 2","mark":"bar","encoding":{"x":{"field":"x","type":"quantitative","title":"Fork length (cm)","scale":{"domain":[49.5,179.5],"nice":false},"axis":{"values":[50,60,70,80,90,100,110,120,130,140,150,160,170]}},"y":{"field":"n","type":"quantitative","title":"Numbr of fish","scale":{"domain":[0,1500]},"axis":{"format":"d"}}}},
{"data":{"name":"q4a3"},"title":"Qt4 Area 3","mark":"bar","encoding":{"x":{"field":"x","type":"quantitative","title":"Fork length (cm)","scale":{"domain":[49.5,180.5],"nice":false}},"y":{"field":"n","type":"quantitative","title":"Numbr of fish","scale":{"domain":[0,200]}}}},
{"data":{"name":"q4a4"},"title":"Qt4 Area 4","mark":"bar","encoding":{"x":{"field":"x","type":"quantitative","title":"Fork length (cm)","scale":{"domain":[49.5,180.5],"nice":false}},"y":{"field":"n","type":"quantitative","title":"Numbr of fish","scale":{"domain":[0,30]}}}}
],
"config":{
"view":{"continuousWidth":418,"continuousHeight":122,"stroke":"#8c8c8c","strokeWidth":1},
"bar":{"orient":"vertical","fill":"#7f7ff0","stroke":"#111111","strokeWidth":0.6,"continuousBandSize":3.2},
"axis":{"labelFont":"Noto Sans CJK JP","labelFontSize":12,"labelColor":"#000000","tickColor":"#000000","domainColor":"#000000","grid":false,"titleFontWeight":"normal","titleColor":"#000000","tickSize":4},
"axisX":{"tickCount":13,"labelAngle":0,"labelFlush":false,"titleFont":"Noto Sans CJK JP","titleFontSize":12,"titlePadding":10,"labelPadding":3},
"axisY":{"tickCount":3,"titleFont":"DejaVu Sans","titleFontSize":12.5,"titlePadding":13,"labelPadding":6},
"title":{"font":"Noto Sans CJK JP","fontSize":20,"fontWeight":"normal","color":"#000000","offset":4,"frame":"bounds","anchor":"middle"}
}
}
